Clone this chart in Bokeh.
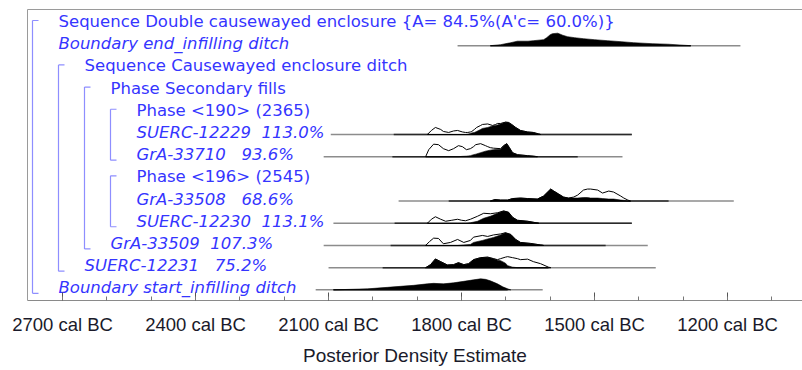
from bokeh.plotting import figure
from bokeh.models import Range1d, LinearAxis, FixedTicker, ColumnDataSource
from bokeh.core.properties import value, field
from bokeh.embed import file_html
from bokeh.resources import INLINE

# ---------------- data ----------------
row_labels = [
    "Sequence Double causewayed enclosure {A= 84.5%(A'c= 60.0%)}",
    "Boundary end_infilling ditch",
    "Sequence Causewayed enclosure ditch",
    "Phase Secondary fills",
    "Phase <190> (2365)",
    "SUERC-12229\u00a0\u00a0113.0%",
    "GrA-33710\u00a0\u00a0\u00a093.6%",
    "Phase <196> (2545)",
    "GrA-33508\u00a0\u00a0\u00a068.6%",
    "SUERC-12230\u00a0\u00a0113.1%",
    "GrA-33509\u00a0\u00a0107.3%",
    "SUERC-12231\u00a0\u00a0\u00a075.2%",
    "Boundary start_infilling ditch",
]
row_indent = [0, 0, 1, 2, 3, 3, 3, 3, 3, 3, 2, 1, 0]
row_italic = [False, True, False, False, False, True, True, False, True, True, True, True, True]

group_first = [0, 2, 3, 4, 7]
group_last = [12, 11, 10, 6, 9]
group_level = [0, 1, 2, 3, 3]

tick_major = [2700, 2400, 2100, 1800, 1500, 1200]
tick_minor = [2700, 2600, 2500, 2400, 2300, 2200, 2100, 2000, 1900, 1800, 1700,
              1600, 1500, 1400, 1300, 1200, 1100]

# Boundary end_infilling ditch (row 1) - posterior only
be_years = [1735, 1712, 1689, 1674, 1650, 1638, 1615, 1608, 1600, 1595, 1583, 1572,
            1561, 1545, 1525, 1500, 1471, 1440, 1412, 1370, 1335, 1300, 1283]
be_post = [0, 1, 3, 4.5, 4.5, 5, 6, 8, 11, 12, 12.5, 10.5, 9, 8, 7, 6, 5, 4, 3, 2, 1.5, 0.5, 0]
be_outer = [1809, 1171]
be_inner = [1735, 1283]

# SUERC-12229 (row 5)
s29_years = [1877, 1868, 1859, 1847, 1841, 1829, 1818, 1809, 1798, 1791, 1786, 1780, 1777,
             1771, 1766, 1757, 1753, 1741, 1730, 1723, 1719, 1712, 1701, 1694, 1687, 1678,
             1667, 1651, 1638, 1626, 1622]
s29_like = [0, 4, 7, 5, 3, 2, 3.5, 4, 2.5, 2, 2, 2.5, 3, 5, 7, 9, 10, 10.5, 9, 10, 11, 11,
            12.3, 12, 10, 7, 4, 2.5, 2, 0.5, 0]
s29_post = [0, 0, 0, 0, 0, 0, 0, 0, 0, 0, 0.3, 1, 1.5, 2, 3, 5, 6, 7, 8.5, 9, 9.5, 10.5,
            12.3, 12, 10, 7, 4, 2.5, 2, 0.5, 0]
s29_outer = [2095, 1416]
s29_inner = [1953, 1416]

# GrA-33710 (row 6)
g710_years = [1881, 1874, 1863, 1852, 1841, 1829, 1818, 1807, 1798, 1789, 1780, 1773, 1768,
              1757, 1746, 1741, 1735, 1728, 1712, 1705, 1698, 1692, 1685, 1674, 1651, 1638, 1629]
g710_like = [0, 7, 12.5, 12, 8, 6, 8, 11, 10, 7, 8, 10, 12, 13, 11, 10, 9, 8.5, 8, 11, 13,
             9, 4, 2, 1, 0.5, 0]
g710_post = [0, 0, 0, 0, 0, 0, 0, 0, 0.3, 0.5, 1, 2, 2.5, 4, 5.5, 6, 6.5, 7, 7.5, 11, 13,
             9, 4, 2, 1, 0.5, 0]
g710_outer = [2111, 1437]
g710_inner = [1956, 1538]

# GrA-33508 (row 8)
g508_years = [1735, 1725, 1712, 1696, 1685, 1667, 1651, 1629, 1615, 1599, 1592, 1581, 1570,
              1559, 1547, 1538, 1525, 1516, 1509, 1493, 1482, 1468, 1457, 1441, 1434, 1425, 1419]
g508_like = [0, 1.5, 1, 1, 2.5, 3, 2.5, 2, 5, 12, 10, 7, 4, 3, 4, 6, 11, 12, 12, 11, 8, 10,
             9, 5, 3, 1, 0]
g508_post = [0, 1.5, 1, 1, 2.5, 3, 2.5, 2, 5, 12, 10, 7, 4, 3, 3, 3, 3.5, 3.5, 3, 3, 2.5,
             2, 2, 1, 0.7, 0.3, 0]
g508_outer = [1942, 1186]
g508_inner = [1829, 1333]

# SUERC-12230 (row 9)
s30_years = [1877, 1868, 1859, 1847, 1836, 1822, 1809, 1800, 1791, 1780, 1764, 1750, 1735,
             1719, 1705, 1694, 1685, 1674, 1651, 1638, 1626]
s30_like = [0, 4, 6.5, 4, 2, 3, 4, 3, 2.5, 4, 7, 10, 9.5, 10.5, 12.3, 11, 6, 3, 2, 1, 0]
s30_post = [0, 0, 0, 0, 0, 0, 0, 0, 0, 0.5, 2, 5, 7, 10, 12.3, 11, 6, 3, 2, 1, 0]
s30_outer = [2089, 1416]
s30_inner = [1951, 1416]

# GrA-33509 (row 10)
g509_years = [1881, 1872, 1863, 1852, 1841, 1825, 1809, 1795, 1780, 1773, 1753, 1741, 1728,
              1712, 1701, 1689, 1678, 1667, 1644, 1622, 1615]
g509_like = [0, 4, 7.3, 7, 1.7, 3, 6, 3, 5, 8.3, 10, 9, 10.5, 11.5, 12.7, 11, 6, 3, 2, 0.5, 0]
g509_post = [0, 0, 0, 0, 0, 0, 0, 0.5, 1, 3, 5, 6.5, 8, 10.5, 12.7, 11, 6, 3, 2, 0.5, 0]
g509_outer = [2111, 1380]
g509_inner = [1960, 1475]

# SUERC-12231 (row 11)
s31_years = [1881, 1870, 1859, 1847, 1832, 1818, 1807, 1795, 1784, 1773, 1757, 1741, 1728,
             1719, 1712, 1701, 1696, 1685, 1674, 1667, 1651, 1638, 1622, 1604, 1599]
s31_like = [0, 3, 8.7, 6, 2.7, 3, 5, 3, 4, 8, 10, 10.5, 9, 8, 9, 10.5, 11, 10, 9, 8, 8.5,
            6, 4, 0.5, 0]
s31_post = [0, 3, 8.7, 6, 2.7, 3, 5, 3, 4, 8, 10, 10.5, 9, 7.5, 7, 4.5, 2, 0.5, 0, 0, 0,
            0, 0, 0, 0]
s31_outer = [2100, 1362]
s31_inner = [1978, 1604]

# Boundary start_infilling ditch (row 12) - posterior only
bs_years = [2089, 2012, 1967, 1938, 1908, 1877, 1863, 1841, 1818, 1795, 1773, 1757, 1746,
            1735, 1719, 1707, 1696, 1689]
bs_post = [0, 1, 2.5, 3.5, 4.5, 6, 6.5, 6, 7, 8.5, 10, 11, 10.5, 9, 6, 3, 1, 0]
bs_outer = [2129, 1617]
bs_inner = [2089, 1696]

# ---------------- layout ----------------
W, H = 802, 370
X0, X1 = 2779, 1031
Y_BOT, Y_TOP = 12.48, -0.63
FRAME_L, FRAME_T, FRAME_B = 27, 9, 300
px_per_year = (W - FRAME_L) / (X0 - X1)
row_px = (FRAME_B - FRAME_T) / (Y_BOT - Y_TOP)


def px_x(px):
    return X0 - px / px_per_year


BLUE = "#3535ff"
BRACKET = "#8e8eff"

p = figure(width=W, height=H, x_range=Range1d(X0, X1), y_range=Range1d(Y_BOT, Y_TOP),
           output_backend="svg", toolbar_location=None, y_axis_location=None,
           min_border_left=FRAME_L, min_border_right=0, min_border_top=FRAME_T,
           min_border_bottom=H - FRAME_B)
p.grid.visible = False
p.outline_line_color = None
p.background_fill_color = "white"
p.border_fill_color = "white"

ax = p.xaxis[0]
ax.ticker = FixedTicker(ticks=tick_major, minor_ticks=tick_minor)
ax.major_label_overrides = {t: f"{t} cal BC" for t in tick_major}
ax.major_tick_in = 8
ax.major_tick_out = 0
ax.minor_tick_in = 4
ax.minor_tick_out = 0
ax.axis_line_color = "#8a8a8a"
ax.major_tick_line_color = "#555555"
ax.minor_tick_line_color = "#777777"
ax.major_label_text_font = "Liberation Sans"
ax.major_label_text_font_size = "18.5px"
ax.major_label_text_color = "#1a1a2a"
ax.major_label_standoff = 13
ax.axis_label = "Posterior Density Estimate"
ax.axis_label_text_font = "Liberation Sans"
ax.axis_label_text_font_size = "19px"
ax.axis_label_text_font_style = "normal"
ax.axis_label_text_color = "#1a1a2a"
ax.axis_label_standoff = 7

for loc in ("left", "above"):
    a = LinearAxis(ticker=FixedTicker(ticks=[]), major_tick_in=0, major_tick_out=0,
                   minor_tick_in=0, minor_tick_out=0, major_label_standoff=0,
                   major_label_text_font_size="0px", axis_line_color="#9a9a9a")
    p.add_layout(a, loc)

# brackets
bx = [px_x(5 + 26 * lv) for lv in group_level]
bx2 = [px_x(11 + 26 * lv) for lv in group_level]
top = [f - 3 / row_px for f in group_first]
bot = [l + 3.5 / row_px for l in group_last]
p.segment(x0=bx, y0=top, x1=bx, y1=bot, line_color=BRACKET, line_width=1.2)
p.segment(x0=bx, y0=top, x1=bx2, y1=top, line_color=BRACKET, line_width=1.2)
p.segment(x0=bx, y0=bot, x1=bx2, y1=bot, line_color=BRACKET, line_width=1.2)

# labels
text_src = ColumnDataSource(dict(
    x=[px_x(31 + 26 * lv) for lv in row_indent],
    y=list(range(len(row_labels))),
    text=row_labels,
    style=["italic" if it else "normal" for it in row_italic],
))
p.text(x="x", y="y", text="text", source=text_src, text_font=value("DejaVu Sans"),
       text_font_size="16.5px", text_color=BLUE, text_font_style=field("style"),
       text_baseline="alphabetic", y_offset=-2)

# distributions
dists = [
    (1, be_years, None, be_post, be_outer, be_inner),
    (5, s29_years, s29_like, s29_post, s29_outer, s29_inner),
    (6, g710_years, g710_like, g710_post, g710_outer, g710_inner),
    (8, g508_years, g508_like, g508_post, g508_outer, g508_inner),
    (9, s30_years, s30_like, s30_post, s30_outer, s30_inner),
    (10, g509_years, g509_like, g509_post, g509_outer, g509_inner),
    (11, s31_years, s31_like, s31_post, s31_outer, s31_inner),
    (12, bs_years, None, bs_post, bs_outer, bs_inner),
]

for row, yrs, like, post, outer, inner in dists:
    p.line(x=outer, y=[row, row], line_color="#8c8c8c", line_width=1.5)
    p.line(x=inner, y=[row, row], line_color="#2a2a2a", line_width=1.5)
    if like is not None:
        p.patch(x=yrs, y=[row - h / row_px for h in like], fill_color="white",
                line_color="black", line_width=1)
    p.patch(x=yrs, y=[row - h / row_px for h in post], fill_color="black",
            line_color="black", line_width=0.6)

open("out.html", "w").write(file_html(p, INLINE))
